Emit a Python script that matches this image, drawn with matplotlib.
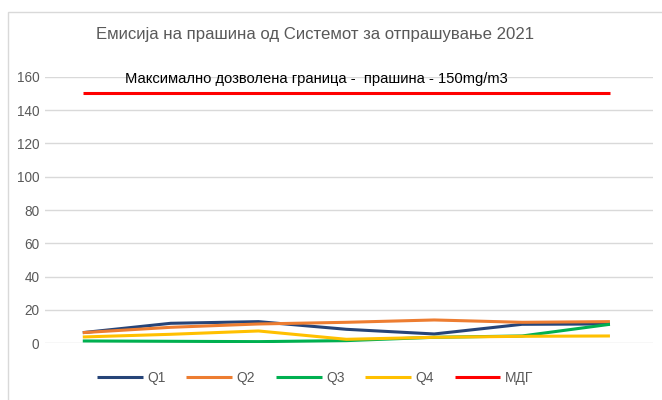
import matplotlib.pyplot as plt
from matplotlib.patches import Rectangle

points = list(range(7))
q1 = [6.4, 12.0, 13.0, 8.4, 5.6, 11.4, 11.6]
q2 = [6.4, 9.6, 11.6, 12.6, 14.0, 12.6, 13.0]
q3 = [1.4, 1.2, 1.0, 1.6, 3.6, 4.4, 11.4]
q4 = [3.8, 5.4, 7.4, 2.4, 3.6, 4.2, 4.4]
mdg = [150] * 7
series_names = ['Q1', 'Q2', 'Q3', 'Q4', 'МДГ']
series_colors = ['#264478', '#ED7D31', '#00B050', '#FFC000', '#FF0000']
yticks = [0, 20, 40, 60, 80, 100, 120, 140, 160]

plt.rcParams['font.family'] = ['Liberation Sans', 'DejaVu Sans']

W, H = 662, 400
fig = plt.figure(figsize=(W / 100, H / 100), dpi=100)

# chart frame (Excel chart area border)
fig.patches.append(Rectangle((8 / W, -0.1), 1.2, 1.1 - 12 / H, transform=fig.transFigure,
                             fill=False, edgecolor='#d9d9d9', linewidth=1))

ax = fig.add_axes([45 / W, (H - 343.3) / H, (653 - 45) / W, (343.3 - 76.7) / H])
for vals, name, col in zip([q1, q2, q3, q4, mdg], series_names, series_colors):
    ax.plot(points, vals, color=col, linewidth=2.2, label=name, solid_capstyle='butt')

ax.set_ylim(0, 160)
ax.set_xlim(-0.43, 6.49)
ax.set_yticks(yticks)
ax.set_xticks([])
ax.grid(axis='y', color='#d9d9d9', linewidth=1)
ax.set_axisbelow(True)
for s in ax.spines.values():
    s.set_visible(False)
ax.tick_params(axis='y', length=0, labelsize=9.8, labelcolor='#595959', pad=4)

fig.text(315 / W, (H - 35) / H, 'Емисија на прашина од Системот за отпрашување 2021',
         ha='center', va='center', fontsize=12.1, color='#595959')
fig.text(125 / W, (H - 79) / H, 'Максимално дозволена граница -  прашина - 150mg/m3',
         ha='left', va='center', fontsize=10.6, color='black')

leg = fig.legend(loc='center', bbox_to_anchor=(0.476, (H - 378) / H), ncol=5,
                 frameon=False, fontsize=10, handlelength=3.3, handletextpad=0.3,
                 columnspacing=1.5)
for t in leg.get_texts():
    t.set_color('#595959')

fig.savefig('out.png', dpi=100)
